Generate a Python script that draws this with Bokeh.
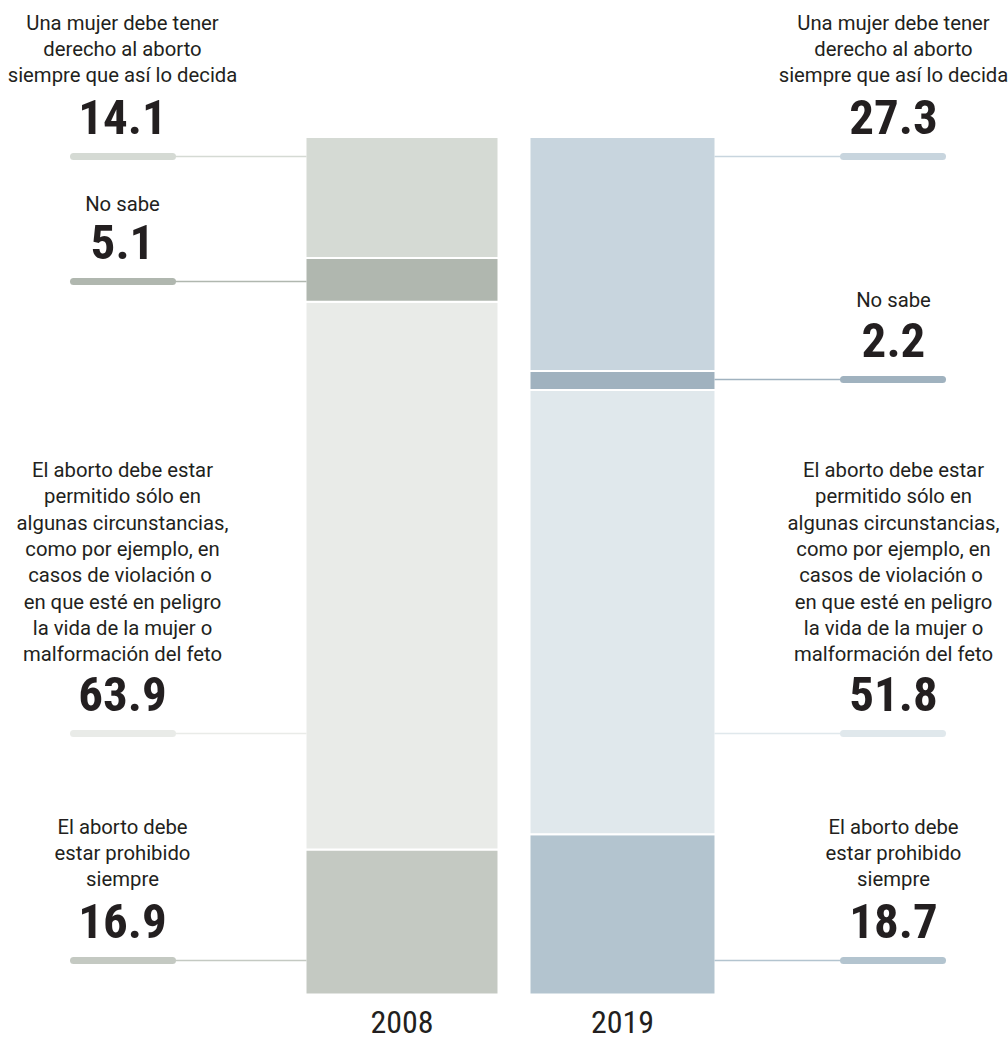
from bokeh.plotting import figure
from bokeh.models import Range1d, ColumnDataSource
from bokeh.core.properties import value
from bokeh.embed import file_html
from bokeh.resources import INLINE

# ---------------- data ----------------
years = ["2008", "2019"]
categories = ["prohibido", "permitido", "no_sabe", "derecho"]  # bottom -> top
values_2008 = [16.9, 63.9, 5.1, 14.1]
values_2019 = [18.7, 51.8, 2.2, 27.3]
label_lines = {
    "derecho": ["Una mujer debe tener", "derecho al aborto", "siempre que así lo decida"],
    "no_sabe": ["No sabe"],
    "permitido": ["El aborto debe estar", "permitido sólo en", "algunas circunstancias,",
                  "como por ejemplo, en", "casos de violación  o", "en que esté en peligro",
                  "la vida de la mujer o", "malformación del feto"],
    "prohibido": ["El aborto debe", "estar prohibido", "siempre"],
}
colors_2008 = ["#c4c9c2", "#e9ebe8", "#b0b7af", "#d5dad4"]
colors_2019 = ["#b3c4cf", "#e0e8ec", "#a0b2bf", "#c8d5de"]

# ---------------- layout ----------------
W, H = 1008, 1044
TOP_PX, BOT_PX = 136.5, 994.0           # screen px of 100% and 0%
k = (BOT_PX - TOP_PX) / 100.0
y_end = 100 + TOP_PX / k
y_start = -(H - BOT_PX) / k

bar_x = [401.5, 622.0]
bar_w = [193, 186]
bar_left = [306, 530]
bar_right = [497, 714]

pill_y_left = {"derecho": 156, "no_sabe": 281, "permitido": 733, "prohibido": 960}
pill_y_right = {"derecho": 156, "no_sabe": 379, "permitido": 733, "prohibido": 960}
label_gap_left = {"derecho": 73, "no_sabe": 69, "permitido": 71, "prohibido": 73}
label_gap_right = {"derecho": 73, "no_sabe": 71, "permitido": 71, "prohibido": 73}
label_cx = [122, 893]
pill_x = [(73, 172), (843, 942)]
LINE_H = 26.3
TEXT_COLOR = "#231f20"
LABEL_SIZE = 20.3
NUM_SIZE = 49
YEAR_SIZE = 32
BASE_SHIFT = 0.41  # renderer places alphabetic text ~0.41em low; compensate
NUM_FONT = "'Roboto Condensed', Roboto"
YEAR_FONT = "'Roboto Condensed', Roboto"

p = figure(width=W, height=H, x_range=Range1d(0, W), y_range=Range1d(y_start, y_end),
           output_backend="svg", toolbar_location=None, min_border=0,
           x_axis_type=None, y_axis_type=None)
p.grid.visible = False
p.outline_line_color = None
p.background_fill_color = "white"
p.border_fill_color = "white"
p.extra_y_ranges = {"px": Range1d(start=H, end=0)}

all_values = [values_2008, values_2019]
all_colors = [colors_2008, colors_2019]

# stacked bars
for i, yr in enumerate(years):
    vals = all_values[i]
    bottoms, tops = [], []
    acc = 0.0
    for v in vals:
        bottoms.append(acc)
        acc += v
        tops.append(acc)
    src = ColumnDataSource(dict(x=[bar_x[i]] * len(vals), bottom=bottoms, top=tops,
                                color=all_colors[i]))
    p.vbar(x="x", width=bar_w[i], bottom="bottom", top="top", fill_color="color",
           line_color="white", line_width=2, source=src)

# labels, numbers, pills, leader lines
for i, yr in enumerate(years):
    pys = pill_y_left if i == 0 else pill_y_right
    gaps = label_gap_left if i == 0 else label_gap_right
    cx = label_cx[i]
    for j, cat in enumerate(categories):
        py = pys[cat]
        col = all_colors[i][j]
        if i == 0:
            x0, x1 = pill_x[0][1], bar_left[0]
        else:
            x0, x1 = bar_right[1], pill_x[1][0]
        p.line([x0, x1], [py, py], line_color=col, line_width=1.6, y_range_name="px")
        p.line([pill_x[i][0], pill_x[i][1]], [py, py], line_color=col, line_width=7,
               line_cap="round", y_range_name="px")
        p.text([cx], [py - 19 - BASE_SHIFT * NUM_SIZE], text=[f"{all_values[i][j]:.1f}"],
               text_align="center", text_baseline="alphabetic", text_font=value(NUM_FONT),
               text_font_style="bold", text_font_size=f"{NUM_SIZE}px", text_color=TEXT_COLOR,
               y_range_name="px")
        lines = label_lines[cat]
        n = len(lines)
        last = py - gaps[cat]
        ys = [last - (n - 1 - m) * LINE_H - BASE_SHIFT * LABEL_SIZE for m in range(n)]
        p.text([cx] * n, ys, text=lines, text_align="center", text_baseline="alphabetic",
               text_font=value("Roboto"), text_font_size=f"{LABEL_SIZE}px",
               text_color=TEXT_COLOR, y_range_name="px")

# year labels
yb = 1035 - BASE_SHIFT * YEAR_SIZE
p.text(bar_x, [yb, yb], text=years, text_align="center", text_baseline="alphabetic",
       text_font=value(YEAR_FONT), text_font_size=f"{YEAR_SIZE}px",
       text_color=TEXT_COLOR, y_range_name="px")

open("out.html", "w").write(file_html(p, INLINE))
